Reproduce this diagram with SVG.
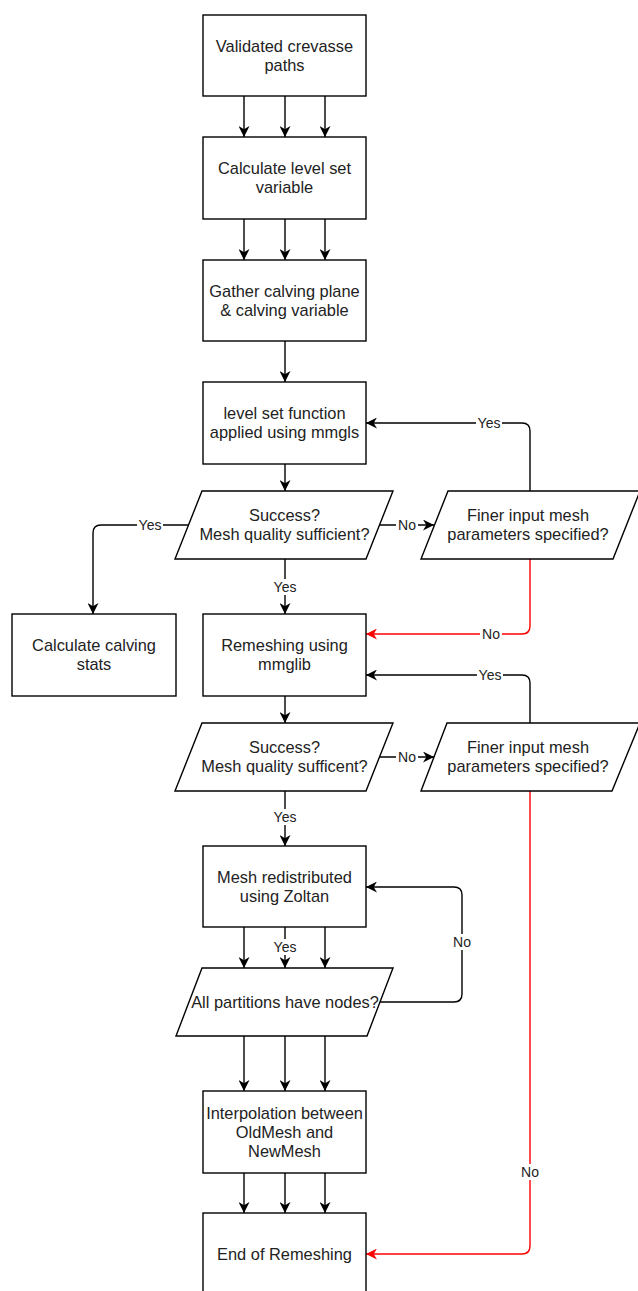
<svg xmlns="http://www.w3.org/2000/svg" width="638" height="1291" viewBox="0 0 638 1291">
<style>
.box{fill:#fff;stroke:#000;stroke-width:1.4}
.t{font-family:"Liberation Sans",Arial,sans-serif;font-size:16.4px;fill:#222;text-anchor:middle}
.lbl{font-family:"Liberation Sans",Arial,sans-serif;font-size:14px;fill:#222;text-anchor:middle}
.e{fill:none;stroke:#000;stroke-width:1.4;marker-end:url(#ah)}
.r{fill:none;stroke:#f00;stroke-width:1.4;marker-end:url(#ahr)}
.bg{fill:#fff}
</style>
<defs>
<marker id="ah" markerUnits="userSpaceOnUse" markerWidth="11" markerHeight="11" refX="10" refY="5" orient="auto" viewBox="0 0 10 10"><path d="M0,0 L10,5 L0,10 L3,5 Z" fill="#000"/></marker>
<marker id="ahr" markerUnits="userSpaceOnUse" markerWidth="11" markerHeight="11" refX="10" refY="5" orient="auto" viewBox="0 0 10 10"><path d="M0,0 L10,5 L0,10 L3,5 Z" fill="#f00"/></marker>
</defs>
<rect width="638" height="1291" fill="#fff"/>
<g id="connectors">
<path class="e" d="M244,96 V137"/><path class="e" d="M285,96 V137"/><path class="e" d="M325,96 V137"/>
<path class="e" d="M244,219 V260"/><path class="e" d="M285,219 V260"/><path class="e" d="M325,219 V260"/>
<path class="e" d="M285,341 V382"/>
<path class="e" d="M285,464 V491"/>
<path class="e" d="M380,525 H434"/>
<rect class="bg" x="396" y="517" width="22" height="16"/><text class="lbl" x="407" y="530">No</text>
<path class="e" d="M530,491 V431 Q530,423 522,423 H366"/>
<rect class="bg" x="476" y="415" width="26" height="16"/><text class="lbl" x="489" y="428">Yes</text>
<path class="r" d="M530,559 V626 Q530,634 522,634 H366"/>
<rect class="bg" x="480" y="626" width="22" height="16"/><text class="lbl" x="491" y="639">No</text>
<path class="e" d="M189,525 H101 Q93,525 93,533 V614"/>
<rect class="bg" x="137" y="517" width="26" height="16"/><text class="lbl" x="150" y="530">Yes</text>
<path class="e" d="M285,559 V614"/>
<rect class="bg" x="272" y="579" width="26" height="16"/><text class="lbl" x="285" y="592">Yes</text>
<path class="e" d="M285,696 V723"/>
<path class="e" d="M380,757 H434"/>
<rect class="bg" x="396" y="749" width="22" height="16"/><text class="lbl" x="407" y="762">No</text>
<path class="e" d="M530,723 V683 Q530,675 522,675 H366"/>
<rect class="bg" x="477" y="667" width="26" height="16"/><text class="lbl" x="490" y="680">Yes</text>
<path class="r" d="M530,791 V1246 Q530,1254 522,1254 H366"/>
<rect class="bg" x="519" y="1164" width="22" height="16"/><text class="lbl" x="530" y="1177">No</text>
<path class="e" d="M285,791 V846"/>
<rect class="bg" x="272" y="809" width="26" height="16"/><text class="lbl" x="285" y="822">Yes</text>
<path class="e" d="M244,927 V968"/><path class="e" d="M285,927 V968"/><path class="e" d="M325,927 V968"/>
<rect class="bg" x="272" y="939" width="26" height="16"/><text class="lbl" x="285" y="952">Yes</text>
<path class="e" d="M380,1002 H454 Q462,1002 462,994 V895 Q462,887 454,887 H366"/>
<rect class="bg" x="451" y="934" width="22" height="16"/><text class="lbl" x="462" y="947">No</text>
<path class="e" d="M244,1036 V1091"/><path class="e" d="M285,1036 V1091"/><path class="e" d="M325,1036 V1091"/>
<path class="e" d="M244,1173 V1213"/><path class="e" d="M285,1173 V1213"/><path class="e" d="M325,1173 V1213"/>
</g>
<g id="n1"><rect class="box" x="203" y="15" width="163" height="81"/><text class="t" x="284.5" y="51.6">Validated crevasse</text><text class="t" x="284.5" y="70.6">paths</text></g>
<g id="n2"><rect class="box" x="203" y="137" width="163" height="82"/><text class="t" x="284.5" y="174.1">Calculate level set</text><text class="t" x="284.5" y="193.1">variable</text></g>
<g id="n3"><rect class="box" x="203" y="260" width="163" height="81"/><text class="t" x="284.5" y="296.6">Gather calving plane</text><text class="t" x="284.5" y="315.6">&amp; calving variable</text></g>
<g id="n4"><rect class="box" x="203" y="382" width="163" height="82"/><text class="t" x="284.5" y="419.1">level set function</text><text class="t" x="284.5" y="438.1">applied using mmgls</text></g>
<g id="d1"><polygon class="box" points="202,491 393,491 366,559 175,559"/><text class="t" x="284.5" y="521.1">Success?</text><text class="t" x="284.5" y="540.1">Mesh quality sufficient?</text></g>
<g id="f1"><polygon class="box" points="448,491 640,491 613,559 421,559"/><text class="t" x="528" y="521.1">Finer input mesh</text><text class="t" x="528" y="540.1">parameters specified?</text></g>
<g id="calc"><rect class="box" x="12" y="614" width="164" height="82"/><text class="t" x="94" y="651.1">Calculate calving</text><text class="t" x="94" y="670.1">stats</text></g>
<g id="remesh"><rect class="box" x="203" y="614" width="163" height="82"/><text class="t" x="284.5" y="651.1">Remeshing using</text><text class="t" x="284.5" y="670.1">mmglib</text></g>
<g id="d2"><polygon class="box" points="202,723 393,723 366,791 175,791"/><text class="t" x="284.5" y="753.1">Success?</text><text class="t" x="284.5" y="772.1">Mesh quality sufficent?</text></g>
<g id="f2"><polygon class="box" points="447,723 640,723 612,791 421,791"/><text class="t" x="528" y="753.1">Finer input mesh</text><text class="t" x="528" y="772.1">parameters specified?</text></g>
<g id="mr"><rect class="box" x="203" y="846" width="163" height="81"/><text class="t" x="284.5" y="882.6">Mesh redistributed</text><text class="t" x="284.5" y="901.6">using Zoltan</text></g>
<g id="d3"><polygon class="box" points="202,968 393,968 367,1036 176,1036"/><text class="t" x="285" y="1007.6">All partitions have nodes?</text></g>
<g id="interp"><rect class="box" x="203" y="1091" width="163" height="82"/><text class="t" x="284.5" y="1118.6">Interpolation between</text><text class="t" x="284.5" y="1137.6">OldMesh and</text><text class="t" x="284.5" y="1156.6">NewMesh</text></g>
<g id="end"><rect class="box" x="203" y="1213" width="163" height="82"/><text class="t" x="284.5" y="1259.6">End of Remeshing</text></g>
</svg>
